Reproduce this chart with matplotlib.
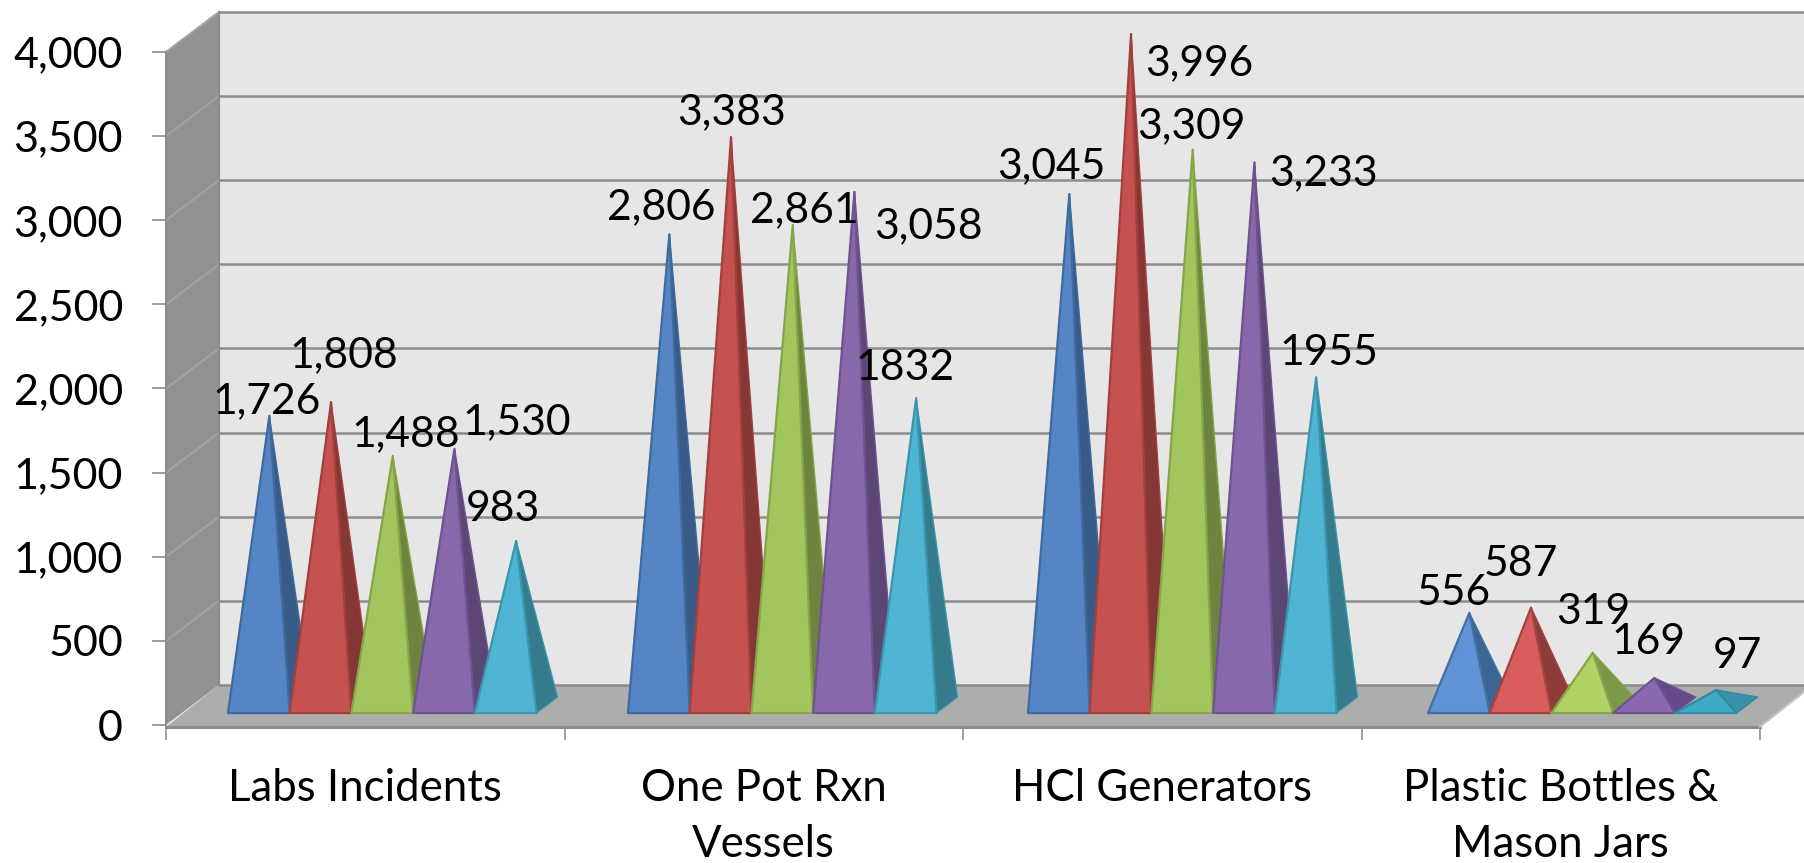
import matplotlib
matplotlib.use("Agg")
import matplotlib.pyplot as plt

plt.rcParams['font.family'] = ['Lato', 'DejaVu Sans']

# data
categories = ["Labs Incidents", "One Pot Rxn\nVessels", "HCl Generators", "Plastic Bottles &\nMason Jars"]
series_a = [1726, 2806, 3045, 556]
series_b = [1808, 3383, 3996, 587]
series_c = [1488, 2861, 3309, 319]
series_d = [1530, 3058, 3233, 169]
series_e = [983, 1832, 1955, 97]
labels_a = ["1,726", "2,806", "3,045", "556"]
labels_b = ["1,808", "3,383", "3,996", "587"]
labels_c = ["1,488", "2,861", "3,309", "319"]
labels_d = ["1,530", "3,058", "3,233", "169"]
labels_e = ["983", "1832", "1955", "97"]
y_ticks = [0, 500, 1000, 1500, 2000, 2500, 3000, 3500, 4000]
y_tick_labels = ["0", "500", "1,000", "1,500", "2,000", "2,500", "3,000", "3,500", "4,000"]

all_series = [series_a, series_b, series_c, series_d, series_e]
all_labels = [labels_a, labels_b, labels_c, labels_d, labels_e]

# label nudges in pixels from the apex, one row per series
offsets_a = [(-3, 15), (-8, 27), (-18, 28), (-16, 20)]
offsets_b = [(13, 47), (0, 25), (68, -29), (-10, 44)]
offsets_c = [(13, 22), (12, 15), (-1, 23), (0, 41)]
offsets_d = [(62, 27), (74, -34), (69, -11), (-6, 36)]
offsets_e = [(-13, 32), (-11, 30), (13, 24), (21, 34)]
all_offsets = [offsets_a, offsets_b, offsets_c, offsets_d, offsets_e]

# front, side, edge
colors = [("#5585C5", "#385B87", "#3F6A9F"),
          ("#C55250", "#853735", "#A33F3C"),
          ("#A2C55E", "#6C843D", "#85A548"),
          ("#8768AA", "#5B4675", "#6E5390"),
          ("#4FB5D2", "#347B8E", "#3A95AD")]
# the last category renders brighter in the original
colors_last = [("#5F93D6", "#3A6595", "#44709F"),
               ("#D95D5D", "#8E3C3A", "#A8423F"),
               ("#AFD365", "#7B9845", "#85A548"),
               ("#8B69AE", "#65498A", "#6E5390"),
               ("#40A9C6", "#3B91A9", "#2F8AA3")]

W, H = 1804, 863
fig = plt.figure(figsize=(W / 100, H / 100), dpi=100)
ax = fig.add_axes([166 / W, 1 - 725 / H, (1760 - 166) / W, (725 - 52) / H])
ax.set_xlim(0, 4)
ax.set_ylim(0, 4000)

# depth of the chart box, in data units
depth_x = 53 / 398.5
depth_y = 238

wall_side = "#929292"
wall_back = "#E6E6E6"
floor = "#ADADAD"
line = "#8C8C8C"

# back wall, left wall, floor
ax.fill([depth_x, 4.2, 4.2, depth_x], [depth_y, depth_y, 4000 + depth_y, 4000 + depth_y],
        color=wall_back, lw=0, clip_on=False, zorder=1)
ax.fill([0, depth_x, depth_x, 0], [0, depth_y, 4000 + depth_y, 4000],
        color=wall_side, lw=0, clip_on=False, zorder=1)
ax.fill([0, 4, 4 + depth_x, depth_x], [-10, -10, depth_y, depth_y],
        color=floor, lw=0, clip_on=False, zorder=1.5)

for t in y_ticks[1:]:
    ax.plot([depth_x, 4.2], [t + depth_y, t + depth_y], color=line, lw=1.8, clip_on=False, zorder=1.2)
    ax.plot([0, depth_x], [t, t + depth_y], color="#A2A2A2", lw=1.5, clip_on=False, zorder=1.2)
ax.plot([depth_x, depth_x], [depth_y, 4000 + depth_y], color=line, lw=1.5, clip_on=False, zorder=1.3)
ax.plot([0, 0], [0, 4000], color=line, lw=1.5, clip_on=False, zorder=1.3)
ax.plot([depth_x, 4.2], [depth_y, depth_y], color=line, lw=1.8, clip_on=False, zorder=1.6)
ax.plot([0, 4], [-10, -10], color=line, lw=2.2, clip_on=False, zorder=1.6)
ax.plot([4, 4 + depth_x], [-10, depth_y], color="#C4C4C4", lw=1.5, clip_on=False, zorder=1.6)

# pyramids
bar_w = 61.7 / 398.5
group_start = 62 / 398.5
group_step = 400 / 398.5
base_y = 71
side_x = 21 / 398.5
side_y = 95
apex_lift = 40
z = 2
for i in range(len(categories)):
    palette = colors_last if i == 3 else colors
    for k, values in enumerate(all_series):
        v = values[i]
        x0 = group_start + i * group_step + k * bar_w
        x1 = x0 + bar_w
        apex_x = (x0 + x1 + side_x) / 2
        apex_y = base_y + apex_lift + v
        front, side, edge = palette[k]
        ax.fill([x1, x1 + side_x, apex_x], [base_y, base_y + side_y, apex_y],
                facecolor=side, edgecolor=edge, lw=1, joinstyle="round", clip_on=False, zorder=z)
        ax.fill([x0, x1, apex_x], [base_y, base_y, apex_y],
                facecolor=front, edgecolor=edge, lw=1.6, joinstyle="round", clip_on=False, zorder=z + 0.1)
        z += 0.2
        dx, dy = all_offsets[k][i]
        ax.annotate(all_labels[k][i], xy=(apex_x, apex_y),
                    xytext=(dx * 0.72, dy * 0.72), textcoords="offset points",
                    ha="center", va="center", fontsize=30.7, color="black",
                    annotation_clip=False, zorder=20)

# axes
for s in ax.spines.values():
    s.set_visible(False)
ax.patch.set_visible(False)
ax.set_yticks(y_ticks)
ax.set_yticklabels(y_tick_labels)
ax.tick_params(axis="y", length=10, width=1.2, color=line, pad=21, labelsize=31)
ax.set_xticks(range(5))
ax.set_xticklabels([])
ax.tick_params(axis="x", which="major", length=11, width=1.4, color="#A0A0A0", pad=0)
ax.set_xticks([0.5, 1.5, 2.5, 3.5], minor=True)
ax.set_xticklabels(categories, minor=True, fontsize=31.5, linespacing=1.46)
ax.tick_params(axis="x", which="minor", length=0, pad=31)

fig.savefig("out.png", dpi=100)
